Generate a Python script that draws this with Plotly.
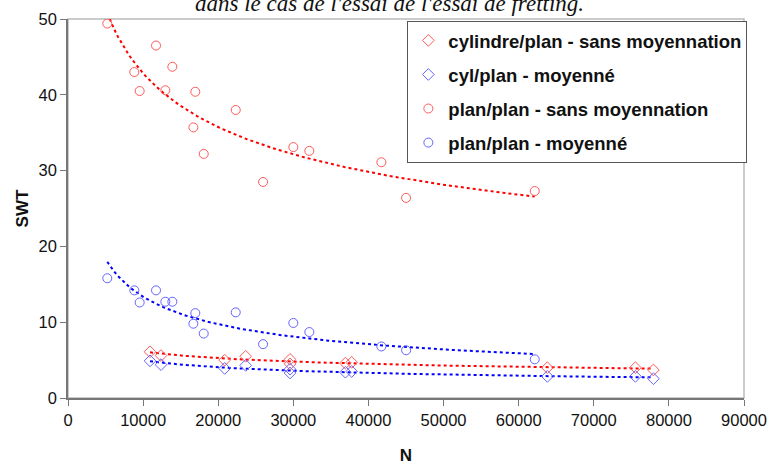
import numpy as np
import plotly.graph_objects as go

# plan/plan data (circles)
n_plan = [5230, 8830, 9540, 11720, 12960, 13890, 16950, 16690, 18070, 22330,
          25970, 30000, 32130, 41720, 45010, 62140]
swt_plan_sans = [49.4, 43.0, 40.5, 46.5, 40.6, 43.7, 40.4, 35.7, 32.2, 38.0,
                 28.5, 33.1, 32.6, 31.1, 26.4, 27.3]
swt_plan_moy = [15.8, 14.2, 12.6, 14.2, 12.7, 12.7, 11.2, 9.8, 8.5, 11.3,
                7.1, 9.9, 8.7, 6.8, 6.3, 5.1]

# cylindre/plan data (diamonds)
n_cyl = [10920, 12380, 20860, 23660, 29560, 29560, 36930, 37770, 63820, 75540, 77940]
swt_cyl_sans = [6.1, 5.6, 5.0, 5.5, 5.1, 4.5, 4.6, 4.7, 4.0, 4.0, 3.7]
swt_cyl_moy = [4.9, 4.4, 3.9, 4.3, 3.8, 3.3, 3.4, 3.5, 2.85, 2.85, 2.55]

x_ticks = [0, 10000, 20000, 30000, 40000, 50000, 60000, 70000, 80000, 90000]
y_ticks = [0, 10, 20, 30, 40, 50]

RED_M = "rgb(255,90,90)"
BLUE_M = "rgb(100,100,255)"
RED_L = "#FF0000"
BLUE_L = "#0000FF"


def power_fit(x, y):
    x = np.asarray(x, float)
    y = np.asarray(y, float)
    b, a = np.polyfit(np.log(x), np.log(y), 1)
    xs = np.linspace(x.min(), x.max(), 120)
    return xs, np.exp(a) * xs ** b


fig = go.Figure()

series = [
    ("cylindre/plan - sans moyennation", n_cyl, swt_cyl_sans, "diamond-open", RED_M, RED_L, 9),
    ("cyl/plan - moyenné", n_cyl, swt_cyl_moy, "diamond-open", BLUE_M, BLUE_L, 9),
    ("plan/plan - sans moyennation", n_plan, swt_plan_sans, "circle-open", RED_M, RED_L, 9),
    ("plan/plan - moyenné", n_plan, swt_plan_moy, "circle-open", BLUE_M, BLUE_L, 9),
]

# trendlines first (behind markers)
for name, xs, ys, sym, mc, lc, sz in series:
    fx, fy = power_fit(xs, ys)
    fig.add_trace(go.Scatter(x=fx, y=fy, mode="lines", showlegend=False,
                             line=dict(color=lc, width=2, dash="dot"),
                             hoverinfo="skip"))

for i, (name, xs, ys, sym, mc, lc, sz) in enumerate(series):
    fig.add_trace(go.Scatter(x=xs, y=ys, mode="markers", name=name,
                             legendgroup="g%d" % i,
                             marker=dict(symbol=sym, size=sz, color=mc,
                                         line=dict(color=mc, width=1))))

fig.add_annotation(text="dans le cas de l'essai de l'essai de fretting.",
                   xref="paper", yref="paper", x=0.476, y=1, xanchor="center",
                   yanchor="bottom", yshift=1, showarrow=False,
                   font=dict(family="Liberation Serif", size=23, color="#111",
                             style="italic"))

# light gray frame on top/right
fig.add_shape(type="rect", xref="paper", yref="paper", x0=0, y0=0, x1=1, y1=1,
              line=dict(color="#BBBBBB", width=1.5), layer="below")

fig.update_layout(
    width=770, height=467,
    margin=dict(l=68, r=26, t=19, b=69, autoexpand=False),
    paper_bgcolor="white", plot_bgcolor="white",
    font=dict(family="Liberation Sans", size=16, color="#111"),
    showlegend=True,
    legend=dict(x=0.502, y=0.995, xanchor="left", yanchor="top",
                bgcolor="white", bordercolor="#555555", borderwidth=1,
                font=dict(family="Liberation Sans", size=18.5, weight="bold", color="#111"),
                traceorder="grouped", tracegroupgap=7,
                itemwidth=30),
    xaxis=dict(range=[0, 90000], tickvals=x_ticks, ticktext=[str(v) for v in x_ticks],
               automargin=False,
               showgrid=False, zeroline=False, showline=True, linecolor="#777777",
               linewidth=1.5, ticks="outside", ticklen=6, tickcolor="#777777",
               tickfont=dict(size=16.5),
               title=dict(text="N", font=dict(size=17, weight="bold"), standoff=22)),
    yaxis=dict(range=[0, 50], tickvals=y_ticks, showgrid=False, zeroline=False,
               automargin=False,
               showline=True, linecolor="#777777", linewidth=1.5, ticks="outside",
               ticklen=6, tickcolor="#777777", tickfont=dict(size=16.5),
               title=dict(text="SWT", font=dict(size=17, weight="bold"), standoff=6)),
)

fig.write_html("out.html", config={"displayModeBar": False},
               post_script="document.body.style.margin='0';document.body.style.overflow='hidden';")
